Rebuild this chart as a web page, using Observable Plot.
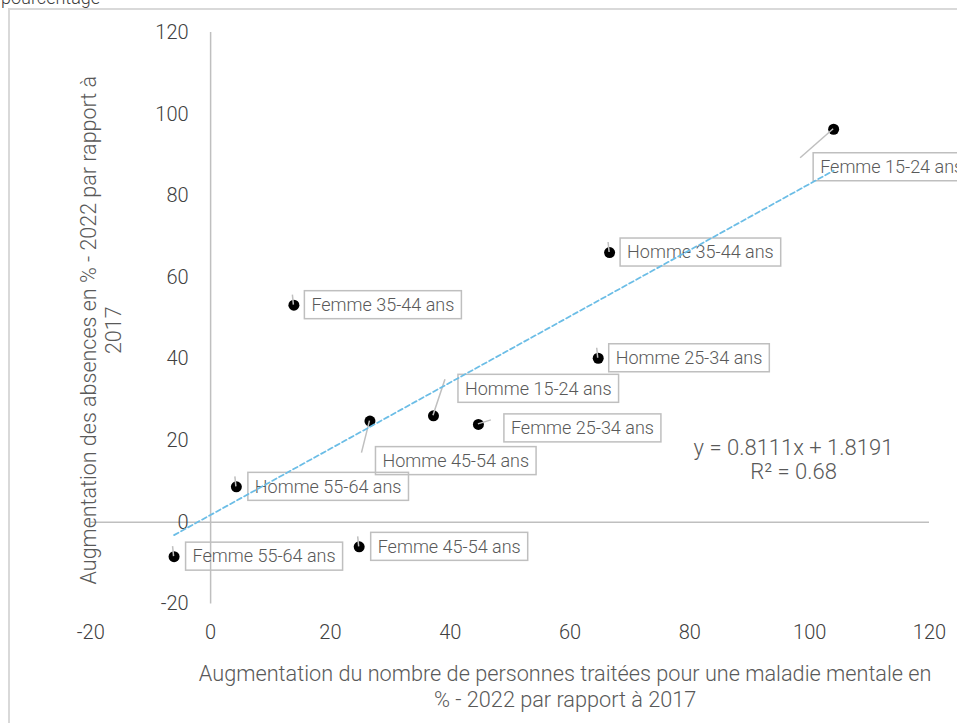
<!DOCTYPE html>
<html><head><meta charset="utf-8">
<script src="https://cdn.jsdelivr.net/npm/d3@7"></script>
<script src="https://cdn.jsdelivr.net/npm/@observablehq/plot@0.6"></script>
<style>
html,body{margin:0;padding:0;overflow:hidden;background:#fff;width:957px;height:723px;}
#sup{position:absolute;left:1px;top:-11px;font:300 18px Roboto, sans-serif;color:#404040;line-height:18px;white-space:nowrap;}
#border{position:absolute;left:8px;top:8px;width:1100px;height:900px;border:2px solid #d9d9d9;}
#chart{position:absolute;left:0;top:0;}
#chart svg{max-width:none !important;}
</style></head><body>
<div id="sup"></div>
<div id="border"></div>
<div id="chart"></div>
<script>
// ---- data ----
const groups = ["Femme 15-24 ans","Homme 35-44 ans","Femme 35-44 ans","Homme 25-34 ans","Homme 15-24 ans","Femme 25-34 ans","Homme 45-54 ans","Homme 55-64 ans","Femme 55-64 ans","Femme 45-54 ans"];
const xValues = [104.0, 66.6, 13.9, 64.7, 37.2, 44.7, 26.6, 4.3, -6.1, 24.8];
const yValues = [96.3, 66.1, 53.2, 40.2, 26.1, 24.0, 24.8, 8.7, -8.4, -6.0];
const xTicks = [-20, 0, 20, 40, 60, 80, 100, 120];
const yTicks = [-20, 0, 20, 40, 60, 80, 100, 120];
const trendSlope = 0.8111, trendIntercept = 1.8191, rSquared = 0.68;
const unitLabel = "pourcentage";
const xTitle = "Augmentation du nombre de personnes traitées pour une maladie mentale en\n% - 2022 par rapport à 2017";
const yTitle = "Augmentation des absences en % - 2022 par rapport à\n2017";
const eqText = `y = ${trendSlope}x + ${trendIntercept}\nR² = ${rSquared}`;

// ---- layout (pixel offsets of label boxes / leader ends from each point) ----
const labelLayout = {
  "Femme 15-24 ans": {box:[-20, 24], leader:[-33, 29]},
  "Homme 35-44 ans": {box:[11, -14], leader:[-1, -10]},
  "Femme 35-44 ans": {box:[11, -14], leader:[-1, -10]},
  "Homme 25-34 ans": {box:[11, -14], leader:[-1, -10]},
  "Homme 15-24 ans": {box:[25, -41], leader:[12, -36]},
  "Femme 25-34 ans": {box:[26, -10], leader:[13, -4]},
  "Homme 45-54 ans": {box:[6, 26], leader:[-8, 32]},
  "Homme 55-64 ans": {box:[12, -14], leader:[-1, -10]},
  "Femme 55-64 ans": {box:[12, -14], leader:[-1, -10]},
  "Femme 45-54 ans": {box:[12, -14], leader:[-1, -10]}
};
const boxHeight = 28, boxPadX = 7;
const eqAnchor = {x: 97.3, y: 15.4};

document.getElementById("sup").textContent = unitLabel;

const points = groups.map((g, i) => ({group: g, x: xValues[i], y: yValues[i]}));
const trend = d3.extent(xValues).map(x => ({x, y: trendSlope * x + trendIntercept}));

function labelMark(index, scales) {
  const g = d3.create("svg:g").attr("class", "labels");
  points.forEach(p => {
    const L = labelLayout[p.group];
    const px = scales.x(p.x), py = scales.y(p.y);
    g.append("line").attr("x1", px).attr("y1", py)
      .attr("x2", px + L.leader[0]).attr("y2", py + L.leader[1])
      .attr("stroke", "#bfbfbf").attr("stroke-width", 1.5);
    const bx = px + L.box[0], by = py + L.box[1];
    g.append("rect").attr("class", "lbl-box").attr("x", bx).attr("y", by)
      .attr("width", 150).attr("height", boxHeight)
      .attr("fill", "none").attr("stroke", "#bfbfbf").attr("stroke-width", 1.5);
    g.append("text").attr("class", "lbl-text").attr("x", bx + boxPadX).attr("y", by + boxHeight / 2)
      .attr("dy", "0.35em").attr("font-size", 18).attr("fill", "#595959")
      .attr("text-anchor", "start")
      .text(p.group);
  });
  return g.node();
}

const W = 1000, H = 723;
const plot = Plot.plot({
  width: W, height: H,
  marginLeft: 90.3, marginRight: W - 929, marginTop: 32, marginBottom: H - 603.5,
  x: {domain: [-20, 120], axis: null},
  y: {domain: [-20, 120], axis: null},
  style: {fontFamily: "Roboto, sans-serif", fontWeight: 300, background: "transparent", overflow: "visible"},
  marks: [
    Plot.ruleY([0], {stroke: "#bfbfbf", strokeWidth: 1.5}),
    Plot.ruleX([0], {stroke: "#bfbfbf", strokeWidth: 1.5}),
    Plot.text(yTicks, {x: 0, y: d => d, text: d => String(d), textAnchor: "end", lineAnchor: "middle", dx: -22, fontSize: 20, fill: "#404040"}),
    Plot.text(xTicks, {x: d => d, frameAnchor: "bottom", text: d => String(d), textAnchor: "middle", lineAnchor: "middle", dy: 29, fontSize: 20, fill: "#404040"}),
    Plot.text([xTitle], {frameAnchor: "bottom", text: d => d, textAnchor: "middle", lineAnchor: "middle", dx: 55, dy: 81.5, lineHeight: 1.22, fontSize: 21.7, fill: "#595959"}),
    Plot.text([yTitle], {frameAnchor: "left", text: d => d, rotate: -90, textAnchor: "middle", lineAnchor: "middle", dx: 9.5, dy: 12, lineHeight: 1.15, fontSize: 21.5, fill: "#595959"}),
    Plot.text([eqText], {x: eqAnchor.x, y: eqAnchor.y, text: d => d, textAnchor: "middle", lineAnchor: "middle", lineHeight: 1.1, fontSize: 22, fill: "#595959"}),
    Plot.dot(points, {x: "x", y: "y", r: 5.5, fill: "#000"}),
    labelMark,
    Plot.line(trend, {x: "x", y: "y", stroke: "#6bbde6", strokeWidth: 1.75, strokeDasharray: "5,3"})
  ]
});
plot.style.maxWidth = "none";
document.getElementById("chart").append(plot);
plot.querySelectorAll("g.labels").forEach(g => {
  const rects = g.querySelectorAll("rect.lbl-box");
  const texts = g.querySelectorAll("text.lbl-text");
  rects.forEach((r, i) => {
    const w = texts[i].getComputedTextLength();
    r.setAttribute("width", w + 2 * boxPadX);
  });
});
</script>
</body></html>
